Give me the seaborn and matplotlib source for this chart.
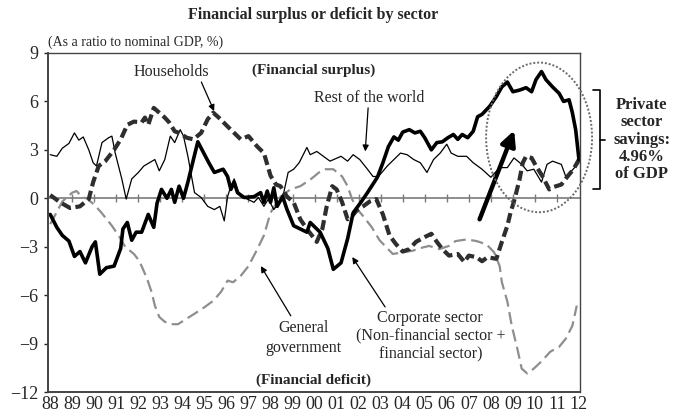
"""Financial surplus or deficit by sector, redrawn with seaborn."""

import matplotlib

matplotlib.use("Agg")
import matplotlib.pyplot as plt
import pandas as pd
import seaborn as sns
from matplotlib.patches import Ellipse

# values (% of nominal GDP)
corp_years = [1988.0, 1988.3, 1988.55, 1988.85, 1989.1, 1989.35, 1989.6, 1989.9, 1990.05, 1990.25,
              1990.55, 1990.9, 1991.2, 1991.3, 1991.5, 1991.7, 1991.9, 1992.15, 1992.45, 1992.7,
              1992.85, 1993.05, 1993.3, 1993.5, 1993.65, 1993.85, 1994.05, 1994.25, 1994.5, 1994.7,
              1994.95, 1995.2, 1995.45, 1995.85, 1996.05, 1996.2, 1996.35, 1996.5, 1996.8, 1997.25,
              1997.55, 1997.7, 1997.85, 1998.0, 1998.15, 1998.3, 1998.55, 1998.75, 1999.05, 1999.35,
              1999.65, 1999.8, 2000.25, 2000.6, 2000.85, 2001.2, 2001.5, 2001.75, 2002.1, 2002.4,
              2002.85, 2003.1, 2003.35, 2003.6, 2003.8, 2004.0, 2004.3, 2004.55, 2004.8, 2005.0,
              2005.3, 2005.55, 2005.8, 2006.05, 2006.3, 2006.5, 2006.7, 2006.95, 2007.2, 2007.4,
              2007.6, 2007.95, 2008.25, 2008.5, 2008.75, 2009.0, 2009.3, 2009.6, 2009.85, 2010.05,
              2010.3, 2010.5, 2010.8, 2011.1, 2011.3, 2011.55, 2011.7, 2011.85, 2012.0]
corp_vals = [-1.0, -1.8, -2.3, -2.65, -3.6, -3.3, -4.0, -3.0, -2.7, -4.7,
             -4.3, -4.2, -3.1, -1.9, -1.5, -2.6, -2.1, -2.1, -1.0, -1.8,
             -0.3, 0.55, 0.0, 0.55, -0.25, 0.75, 0.0, 1.0, 2.4, 3.5,
             2.85, 2.2, 1.6, 1.8, 1.35, 0.55, 1.0, 0.35, 0.05, 0.1,
             0.35, -0.25, 0.45, -0.25, 0.65, -0.5, 0.1, -0.7, -1.7, -1.9,
             -2.1, -1.5, -2.1, -3.1, -4.4, -4.0, -2.5, -0.9, -0.25, 0.35,
             1.3, 2.2, 3.2, 3.8, 3.6, 4.1, 4.25, 4.05, 4.15, 3.75,
             3.0, 3.45, 3.5, 3.75, 3.95, 3.65, 3.95, 3.75, 4.15, 5.05,
             5.2, 5.7, 6.3, 6.9, 7.2, 6.6, 6.7, 6.85, 6.6, 7.35,
             7.85, 7.35, 6.9, 6.5, 6.0, 6.1, 5.3, 4.25, 2.4]

row_years = [1988.0, 1988.3, 1988.55, 1988.85, 1989.1, 1989.3, 1989.5, 1989.75, 1989.95, 1990.1,
             1990.35, 1990.65, 1990.8, 1990.95, 1991.25, 1991.45, 1991.7, 1992.0, 1992.25, 1992.5,
             1992.75, 1992.95, 1993.2, 1993.45, 1993.65, 1993.9, 1994.05, 1994.25, 1994.55, 1994.85,
             1995.15, 1995.45, 1995.7, 1995.9, 1996.05, 1996.2, 1996.35, 1996.5, 1996.65, 1996.95,
             1997.25, 1997.45, 1997.7, 1997.9, 1998.15, 1998.4, 1998.6, 1998.8, 1999.05, 1999.3,
             1999.65, 1999.8, 2000.1, 2000.4, 2000.7, 2001.2, 2001.5, 2001.75, 2002.05, 2002.4,
             2002.65, 2002.9, 2003.3, 2003.6, 2003.9, 2004.2, 2004.5, 2004.8, 2005.1, 2005.4,
             2005.7, 2006.0, 2006.2, 2006.5, 2006.9, 2007.2, 2007.6, 2008.0, 2008.4, 2008.75,
             2009.05, 2009.4, 2009.65, 2009.95, 2010.3, 2010.55, 2010.8, 2011.2, 2011.4, 2011.6,
             2012.0]
row_vals = [2.7, 2.6, 3.1, 3.4, 4.05, 3.6, 3.8, 3.0, 2.2, 2.0,
            3.45, 3.75, 3.85, 2.8, 1.2, -0.05, 1.2, 1.6, 2.0, 2.2,
            2.4, 1.7, 2.4, 3.85, 3.45, 4.25, 3.85, 2.6, 0.35, 0.05,
            -0.5, -0.7, -0.5, -1.4, 0.1, 0.75, 1.2, 0.55, 0.1, -0.05,
            -0.25, 0.05, -0.5, -0.05, -0.7, -0.25, 0.35, 1.6, 1.8, 2.2,
            3.15, 2.7, 2.9, 2.6, 2.3, 2.6, 2.3, 2.7, 2.4, 1.8,
            1.35, 1.35, 2.0, 2.4, 2.8, 2.7, 2.4, 2.2, 1.6, 2.4,
            2.8, 3.35, 2.8, 2.6, 2.6, 2.2, 1.8, 1.3, 1.9, 1.9,
            2.5, 2.1, 1.7, 1.8, 1.0, 2.1, 2.3, 2.1, 1.35, 1.6,
            2.2]

hh_years = [1988.0, 1988.45, 1988.9, 1989.35, 1989.75, 1989.95, 1990.2, 1990.5, 1990.9, 1991.2,
            1991.5, 1991.8, 1992.15, 1992.3, 1992.45, 1992.7, 1992.95, 1993.2, 1993.4, 1993.65,
            1993.85, 1994.2, 1994.5, 1994.85, 1995.15, 1995.4, 1995.65, 1996.05, 1996.35, 1996.65,
            1997.0, 1997.4, 1997.7, 1998.0, 1998.25, 1998.45, 1998.75, 1999.05, 1999.35, 1999.65,
            2000.1, 2000.35, 2000.55, 2000.8, 2001.0, 2001.25, 2001.5, 2001.7, 2001.95, 2002.2,
            2002.5, 2002.8, 2003.1, 2003.4, 2003.7, 2004.0, 2004.3, 2004.6, 2005.0, 2005.3,
            2005.55, 2005.8, 2006.1, 2006.5, 2006.8, 2007.0, 2007.35, 2007.6, 2007.85, 2008.25,
            2008.5, 2008.75, 2008.9, 2009.05, 2009.3, 2009.45, 2009.6, 2009.85, 2010.05, 2010.35,
            2010.65, 2010.85, 2011.2, 2011.45, 2011.75, 2012.0]
hh_vals = [0.2, -0.25, -0.6, -0.5, -0.05, 1.0, 2.0, 2.3, 3.0, 3.65,
           4.55, 4.75, 4.7, 5.0, 4.55, 5.6, 5.3, 5.0, 4.7, 4.15,
           4.05, 3.75, 3.65, 4.05, 4.9, 5.3, 5.0, 4.45, 4.05, 3.65,
           3.85, 3.2, 2.8, 1.4, 0.85, 0.75, 0.1, -0.25, -1.3, -1.9,
           -2.7, -1.9, -0.5, 0.75, 0.55, -0.25, -1.3, -1.1, -0.7, -0.5,
           -0.2, -0.05, -1.0, -2.3, -2.85, -3.3, -3.15, -2.7, -2.4, -2.2,
           -2.7, -3.15, -3.55, -3.45, -3.95, -3.55, -3.65, -3.9, -3.65, -3.75,
           -2.7, -1.7, -0.85, -0.2, 1.15, 2.2, 2.6, 2.5, 2.0, 1.35,
           0.55, 0.7, 0.85, 1.3, 1.8, 2.4]

gov_years = [1988.0, 1988.2, 1988.55, 1989.0, 1989.2, 1989.45, 1989.65, 1990.0, 1990.3, 1990.8,
             1991.1, 1991.4, 1991.8, 1992.0, 1992.15, 1992.4, 1992.6, 1992.75, 1992.95, 1993.2,
             1993.5, 1993.8, 1994.2, 1994.55, 1995.0, 1995.4, 1995.75, 1996.05, 1996.3, 1996.65,
             1997.0, 1997.4, 1997.7, 1998.0, 1998.45, 1998.9, 1999.35, 1999.8, 2000.2, 2000.5,
             2000.85, 2001.25, 2001.5, 2001.7, 2001.95, 2002.2, 2002.6, 2002.95, 2003.55, 2004.0,
             2004.45, 2004.9, 2005.2, 2005.65, 2006.1, 2006.4, 2006.9, 2007.35, 2007.8, 2008.15,
             2008.4, 2008.5, 2008.75, 2008.95, 2009.2, 2009.4, 2009.65, 2009.95, 2010.3, 2010.7,
             2011.1, 2011.4, 2011.7, 2011.9]
gov_vals = [-1.6, -1.1, -0.2, 0.35, 0.45, 0.05, 0.0, -0.4, -0.85, -1.7,
            -2.3, -3.0, -3.45, -3.8, -4.2, -5.0, -5.8, -6.65, -7.35, -7.65,
            -7.8, -7.8, -7.45, -7.15, -6.75, -6.35, -5.8, -5.1, -5.2, -4.8,
            -4.2, -3.15, -2.3, -0.9, 0.1, 0.55, 0.75, 1.15, 1.6, 1.8,
            1.8, 1.35, 0.75, -0.05, -0.7, -1.1, -1.8, -2.6, -3.45, -3.35,
            -3.25, -3.05, -2.95, -3.15, -2.95, -2.65, -2.55, -2.65, -2.85, -3.35,
            -4.2, -5.2, -6.4, -7.9, -9.3, -10.55, -10.85, -10.55, -10.1, -9.5,
            -9.2, -8.7, -7.9, -6.65]

year_ticks = list(range(1988, 2013))
year_labels = [f"{y % 100:02d}" for y in year_ticks]
y_ticks = [9, 6, 3, 0, -3, -6, -9, -12]


def main():
    sns.set_style("white")
    plt.rcParams["font.family"] = ["Liberation Serif", "DejaVu Serif"]
    plt.rcParams["axes.unicode_minus"] = True

    fig = plt.figure(figsize=(6.79, 4.12), dpi=100)
    ax = fig.add_axes([0.0707, 0.0485, 0.7836, 0.8229])

    # zero line with small year ticks
    ax.axhline(0, color="#7a7a7a", lw=1.2, zorder=1)
    ax.plot(year_ticks[1:-1], [0] * (len(year_ticks) - 2), ls="none", marker="|",
            ms=6, mew=1.0, color="#7a7a7a", zorder=1)

    gov = pd.DataFrame({"year": gov_years, "val": gov_vals})
    sns.lineplot(data=gov, x="year", y="val", ax=ax, color="#8e8e8e", lw=1.6,
                 sort=False, errorbar=None)
    ax.lines[-1].set_dashes((5.5, 2.5))

    row = pd.DataFrame({"year": row_years, "val": row_vals})
    sns.lineplot(data=row, x="year", y="val", ax=ax, color="black", lw=0.9,
                 sort=False, errorbar=None)

    hh = pd.DataFrame({"year": hh_years, "val": hh_vals})
    sns.lineplot(data=hh, x="year", y="val", ax=ax, color="#2e2e2e", lw=3.0,
                 sort=False, errorbar=None)
    ax.lines[-1].set_dashes((2.4, 1.1))

    corp = pd.DataFrame({"year": corp_years, "val": corp_vals})
    sns.lineplot(data=corp, x="year", y="val", ax=ax, color="black", lw=2.6,
                 sort=False, errorbar=None)

    ax.set_xlim(1987.9, 2012.05)
    ax.set_ylim(-12, 9)
    ax.set_xticks(year_ticks)
    ax.set_xticklabels(year_labels)
    ax.set_yticks(y_ticks)
    ax.set_yticklabels([f"{v}".replace("-", "\u2212") for v in y_ticks])
    ax.tick_params(axis="x", length=0, pad=3, labelsize=13)
    ax.tick_params(axis="y", length=3, width=1, direction="out", pad=4,
                   labelsize=13, left=True)
    ax.set_xlabel("")
    ax.set_ylabel("")
    for side in ["left", "bottom"]:
        ax.spines[side].set_linewidth(1.4)
        ax.spines[side].set_color("#444444")
    for side in ["top", "right"]:
        ax.spines[side].set_linewidth(1.0)
        ax.spines[side].set_color("#444444")

    # titles
    fig.text(0.461, 0.963, "Financial surplus or deficit by sector", ha="center",
             va="center", fontsize=11.5, fontweight="bold")
    fig.text(0.0707, 0.898, "(As a ratio to nominal GDP, %)", ha="left",
             va="center", fontsize=10)

    ax.text(1999.95, 7.96, "(Financial surplus)", ha="center", va="center",
            fontsize=11, fontweight="bold")
    ax.text(1999.95, -11.3, "(Financial deficit)", ha="center", va="center",
            fontsize=11, fontweight="bold")

    thin = dict(arrowstyle="-|>", color="black", lw=0.9, mutation_scale=9,
                shrinkA=0, shrinkB=0)
    ax.text(1993.5, 7.85, "Households", ha="center", va="center", fontsize=11.5)
    ax.annotate("", xy=(1995.44, 5.4), xytext=(1994.86, 7.2), arrowprops=thin)

    ax.text(2002.48, 6.23, "Rest of the world", ha="center", va="center", fontsize=11.5)
    ax.annotate("", xy=(2002.3, 2.9), xytext=(2002.43, 5.6), arrowprops=thin)

    ax.text(1999.5, -8.64, "General\ngovernment", ha="center", va="center",
            fontsize=11.5, linespacing=1.3)
    ax.annotate("", xy=(1997.56, -4.2), xytext=(1998.92, -7.28), arrowprops=thin)

    ax.text(2005.25, -8.5, "Corporate sector\n(Non-financial sector +\nfinancial sector)",
            ha="center", va="center", fontsize=11.5, linespacing=1.12)
    ax.annotate("", xy=(2001.71, -3.64), xytext=(2003.2, -6.73), arrowprops=thin)

    # big arrow and dotted circle over recent years
    ax.annotate("", xy=(2009.06, 4.2), xytext=(2007.49, -1.3),
                arrowprops=dict(arrowstyle="-|>", color="black", lw=3.2,
                                mutation_scale=22, shrinkA=0, shrinkB=0))
    ax.add_patch(Ellipse((2010.19, 3.77), 4.81, 9.27, fill=False, ls=(0, (1, 1)),
                         lw=1.4, edgecolor="#6a6a6a", clip_on=False, zorder=5))

    # bracket on the right
    bx0, bx1, bx2 = 2012.64, 2012.96, 2013.16
    ax.plot([bx0, bx1, bx1, bx0], [6.73, 6.73, 0.56, 0.56], color="black", lw=1.2,
            clip_on=False)
    ax.plot([bx1, bx2], [3.64, 3.64], color="black", lw=1.2, clip_on=False)
    ax.text(2014.85, 3.64, "Private\nsector\nsavings:\n4.96%\nof GDP", ha="center",
            va="center", fontsize=12, fontweight="bold", linespacing=1.1,
            clip_on=False)

    fig.savefig("out.png", dpi=100)


if __name__ == "__main__":
    main()
